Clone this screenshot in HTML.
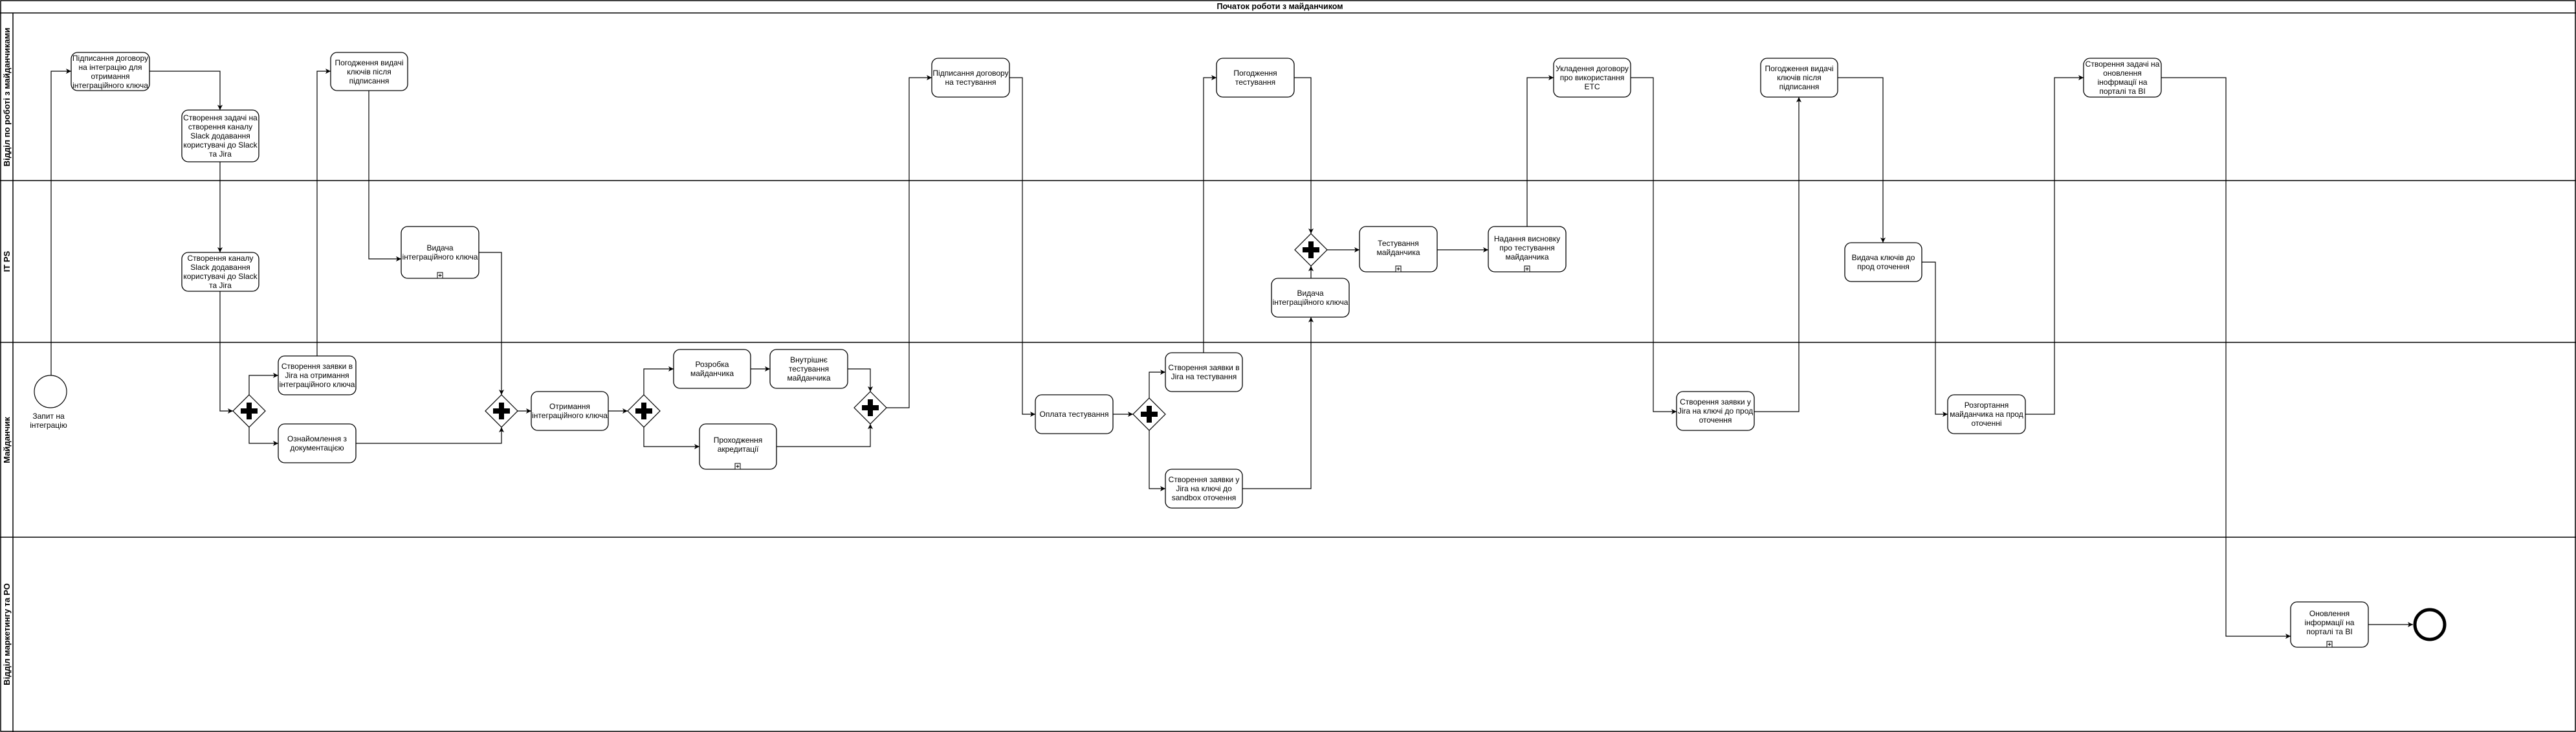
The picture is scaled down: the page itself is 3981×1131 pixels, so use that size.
<!DOCTYPE html>
<html><head><meta charset="utf-8">
<style>
html,body{margin:0;padding:0;background:#fff;}
body{width:3981px;height:1131px;position:relative;overflow:hidden;font-family:"Liberation Sans",sans-serif;}
svg{position:absolute;left:0;top:0;}
.t{position:absolute;display:flex;align-items:center;justify-content:center;text-align:center;font-size:12px;line-height:14px;color:#000;box-sizing:border-box;}
</style></head><body>
<svg width="3981" height="1131" viewBox="0 0 3981 1131" xmlns="http://www.w3.org/2000/svg">
<defs>
<marker id="a" markerWidth="10" markerHeight="10" refX="9" refY="5" orient="auto" markerUnits="userSpaceOnUse">
<path d="M1,1 L9,5 L1,9 L3,5 Z" fill="#000"/>
</marker>
</defs>
<g fill="none" stroke="#000" stroke-width="1.5">
<rect x="1" y="1" width="3979" height="1129"/>
<line x1="0" y1="20" x2="3981" y2="20"/>
<line x1="0" y1="279" x2="3981" y2="279"/>
<line x1="0" y1="529" x2="3981" y2="529"/>
<line x1="0" y1="830" x2="3981" y2="830"/>
<line x1="20" y1="20" x2="20" y2="1131"/>
</g>
<g font-family="Liberation Sans, sans-serif" font-weight="bold" font-size="13" text-anchor="middle">
<text x="1978" y="14" font-size="12.5">Початок роботи з майданчиком</text>
<text transform="translate(15,150) rotate(-90)">Відділ по роботі з майданчиками</text>
<text transform="translate(15,404) rotate(-90)">IT PS</text>
<text transform="translate(15,680) rotate(-90)">Майданчик</text>
<text transform="translate(15,980) rotate(-90)">Відділ маркетингу та PO</text>
</g>
<!-- connectors -->
<g fill="none" stroke="#000" stroke-width="1.2" marker-end="url(#a)">
<polyline points="79,580 79,110 110,110"/>
<polyline points="231,110 340,110 340,170"/>
<polyline points="340,250 340,390"/>
<polyline points="340,450 340,635 360,635"/>
<polyline points="385,610 385,580 430,580"/>
<polyline points="385,660 385,685 430,685"/>
<polyline points="490,550 490,110 511,110"/>
<polyline points="570,140 570,400 620,400"/>
<polyline points="775,390 740,390 775,390 775,610"/>
<polyline points="550,685 775,685 775,660"/>
<polyline points="800,635 821,635"/>
<polyline points="940,635 970,635"/>
<polyline points="995,610 995,570 1041,570"/>
<polyline points="995,660 995,690 1081,690"/>
<polyline points="1160,570 1190,570"/>
<polyline points="1310,570 1345,570 1345,605"/>
<polyline points="1200,690 1345,690 1345,655"/>
<polyline points="1370,630 1405,630 1405,120 1440,120"/>
<polyline points="1560,120 1580,120 1580,640 1600,640"/>
<polyline points="1720,640 1751,640"/>
<polyline points="1776,615 1776,575 1801,575"/>
<polyline points="1776,665 1776,755 1801,755"/>
<polyline points="1860,545 1860,120 1880,120"/>
<polyline points="2000,120 2026,120 2026,361"/>
<polyline points="1920,755 2026,755 2026,490"/>
<polyline points="2026,430 2026,411"/>
<polyline points="2051,386 2101,386"/>
<polyline points="2221,386 2300,386"/>
<polyline points="2360,350 2360,120 2401,120"/>
<polyline points="2520,120 2555,120 2555,636 2591,636"/>
<polyline points="2711,636 2780,636 2780,150"/>
<polyline points="2840,120 2910,120 2910,375"/>
<polyline points="2970,405 2991,405 2991,640 3010,640"/>
<polyline points="3130,640 3175,640 3175,120 3220,120"/>
<polyline points="3340,120 3440,120 3440,983 3540,983"/>
<polyline points="3660,965 3729,965"/>
</g>
<!-- tasks -->
<g fill="#fff" stroke="#000" stroke-width="1.3">
<rect x="110" y="81" width="121" height="59" rx="10"/>
<rect x="281" y="170" width="119" height="80" rx="10"/>
<rect x="511" y="81" width="119" height="59" rx="10"/>
<rect x="281" y="390" width="119" height="60" rx="10"/>
<rect x="620" y="350" width="120" height="80" rx="10"/>
<rect x="430" y="550" width="120" height="60" rx="10"/>
<rect x="430" y="655" width="120" height="60" rx="10"/>
<rect x="821" y="605" width="119" height="60" rx="10"/>
<rect x="1041" y="540" width="119" height="60" rx="10"/>
<rect x="1190" y="540" width="120" height="60" rx="10"/>
<rect x="1081" y="655" width="119" height="70" rx="10"/>
<rect x="1440" y="90" width="120" height="60" rx="10"/>
<rect x="1600" y="610" width="120" height="60" rx="10"/>
<rect x="1801" y="545" width="119" height="60" rx="10"/>
<rect x="1801" y="725" width="119" height="60" rx="10"/>
<rect x="1880" y="90" width="120" height="60" rx="10"/>
<rect x="1965" y="430" width="120" height="60" rx="10"/>
<rect x="2101" y="350" width="120" height="70" rx="10"/>
<rect x="2300" y="350" width="120" height="70" rx="10"/>
<rect x="2401" y="90" width="119" height="60" rx="10"/>
<rect x="2591" y="605" width="120" height="60" rx="10"/>
<rect x="2721" y="90" width="119" height="60" rx="10"/>
<rect x="2851" y="375" width="119" height="60" rx="10"/>
<rect x="3010" y="610" width="120" height="60" rx="10"/>
<rect x="3220" y="90" width="120" height="60" rx="10"/>
<rect x="3540" y="930" width="120" height="70" rx="10"/>
</g>
<!-- plus markers -->
<g fill="#fff" stroke="#000" stroke-width="1">
<rect x="676" y="421" width="8" height="9"/>
<rect x="1136" y="716" width="8" height="9"/>
<rect x="2157" y="411" width="8" height="9"/>
<rect x="2356" y="411" width="8" height="9"/>
<rect x="3596" y="991" width="8" height="9"/>
</g>
<g stroke="#000" stroke-width="1">
<path d="M677.5,425.5h5M680,423v5"/>
<path d="M1137.5,720.5h5M1140,718v5"/>
<path d="M2158.5,415.5h5M2161,413v5"/>
<path d="M2357.5,415.5h5M2360,413v5"/>
<path d="M3597.5,995.5h5M3600,993v5"/>
</g>
<!-- gateways -->
<g>
<g transform="translate(385,635)"><path d="M0,-25 L25,0 L0,25 L-25,0 Z" fill="#fff" stroke="#000" stroke-width="1.2"/><path d="M-4,-13h8v9h9v8h-9v9h-8v-9h-9v-8h9z" fill="#000"/></g>
<g transform="translate(775,635)"><path d="M0,-25 L25,0 L0,25 L-25,0 Z" fill="#fff" stroke="#000" stroke-width="1.2"/><path d="M-4,-13h8v9h9v8h-9v9h-8v-9h-9v-8h9z" fill="#000"/></g>
<g transform="translate(995,635)"><path d="M0,-25 L25,0 L0,25 L-25,0 Z" fill="#fff" stroke="#000" stroke-width="1.2"/><path d="M-4,-13h8v9h9v8h-9v9h-8v-9h-9v-8h9z" fill="#000"/></g>
<g transform="translate(1345,630)"><path d="M0,-25 L25,0 L0,25 L-25,0 Z" fill="#fff" stroke="#000" stroke-width="1.2"/><path d="M-4,-13h8v9h9v8h-9v9h-8v-9h-9v-8h9z" fill="#000"/></g>
<g transform="translate(1776,640)"><path d="M0,-25 L25,0 L0,25 L-25,0 Z" fill="#fff" stroke="#000" stroke-width="1.2"/><path d="M-4,-13h8v9h9v8h-9v9h-8v-9h-9v-8h9z" fill="#000"/></g>
<g transform="translate(2026,386)"><path d="M0,-25 L25,0 L0,25 L-25,0 Z" fill="#fff" stroke="#000" stroke-width="1.2"/><path d="M-4,-13h8v9h9v8h-9v9h-8v-9h-9v-8h9z" fill="#000"/></g>
</g>
<!-- events -->
<circle cx="78" cy="605" r="25" fill="#fff" stroke="#000" stroke-width="1.2"/>
<circle cx="3755" cy="965" r="23" fill="#fff" stroke="#000" stroke-width="5"/>
<text x="75" y="647" font-family="Liberation Sans, sans-serif" font-size="12" text-anchor="middle">Запит на</text>
<text x="75" y="661" font-family="Liberation Sans, sans-serif" font-size="12" text-anchor="middle">інтеграцію</text>
</svg>

<div class="t" style="left:110px;top:81px;width:121px;height:59px;">Підписання договору на інтеграцію для отримання інтеграційного ключа</div>
<div class="t" style="left:281px;top:170px;width:119px;height:80px;">Створення задачі на створення каналу Slack додавання користувачі до Slack та Jira</div>
<div class="t" style="left:511px;top:81px;width:119px;height:59px;">Погодження видачі ключів після підписання</div>
<div class="t" style="left:281px;top:390px;width:119px;height:60px;">Створення каналу Slack додавання користувачі до Slack та Jira</div>
<div class="t" style="left:620px;top:350px;width:120px;height:80px;">Видача інтеграційного ключа</div>
<div class="t" style="left:430px;top:550px;width:120px;height:60px;">Створення заявки в Jira на отримання інтеграційного ключа</div>
<div class="t" style="left:430px;top:655px;width:120px;height:60px;">Ознайомлення з документацією</div>
<div class="t" style="left:821px;top:605px;width:119px;height:60px;">Отримання інтеграційного ключа</div>
<div class="t" style="left:1041px;top:540px;width:119px;height:60px;">Розробка майданчика</div>
<div class="t" style="left:1190px;top:540px;width:120px;height:60px;">Внутрішнє тестування майданчика</div>
<div class="t" style="left:1081px;top:655px;width:119px;height:64px;">Проходження акредитації</div>
<div class="t" style="left:1440px;top:90px;width:120px;height:60px;">Підписання договору на тестування</div>
<div class="t" style="left:1600px;top:610px;width:120px;height:60px;">Оплата тестування</div>
<div class="t" style="left:1801px;top:545px;width:119px;height:60px;">Створення заявки в Jira на тестування</div>
<div class="t" style="left:1801px;top:725px;width:119px;height:60px;">Створення заявки у Jira на ключі до sandbox оточення</div>
<div class="t" style="left:1880px;top:90px;width:120px;height:60px;">Погодження тестування</div>
<div class="t" style="left:1965px;top:430px;width:120px;height:60px;">Видача інтеграційного ключа</div>
<div class="t" style="left:2101px;top:350px;width:120px;height:66px;">Тестування майданчика</div>
<div class="t" style="left:2300px;top:350px;width:120px;height:66px;">Надання висновку про тестування майданчика</div>
<div class="t" style="left:2401px;top:90px;width:119px;height:60px;">Укладення договору про використання ЕТС</div>
<div class="t" style="left:2591px;top:605px;width:120px;height:60px;">Створення заявки у Jira на ключі до прод оточення</div>
<div class="t" style="left:2721px;top:90px;width:119px;height:60px;">Погодження видачі ключів після підписання</div>
<div class="t" style="left:2851px;top:375px;width:119px;height:60px;">Видача ключів до прод оточення</div>
<div class="t" style="left:3010px;top:610px;width:120px;height:60px;">Розгортання майданчика на прод оточенні</div>
<div class="t" style="left:3220px;top:90px;width:120px;height:60px;">Створення задачі на оновлення інофрмації на порталі та BI</div>
<div class="t" style="left:3540px;top:930px;width:120px;height:64px;">Оновлення інформації на порталі та BI</div>
</body></html>
